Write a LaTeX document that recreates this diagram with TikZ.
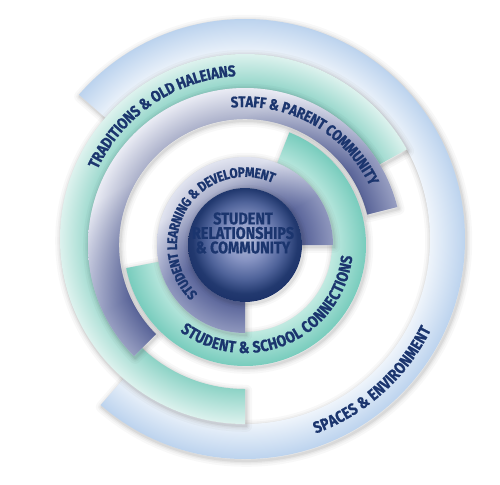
\documentclass[tikz,border=0pt]{standalone}
\usepackage{fontspec}
\setmainfont{Fira Sans}
\newfontfamily\cf[FakeStretch=0.86,FakeBold=0.8]{Fira Sans}
\usetikzlibrary{decorations.text}
\definecolor{navy}{HTML}{1B356E}
\definecolor{sixin}{HTML}{EEF4FB}
\definecolor{sixout}{HTML}{BCD3EE}
\definecolor{fivein}{HTML}{8DD3C6}
\definecolor{fiveout}{HTML}{DDF2EE}
\definecolor{fourin}{HTML}{66709F}
\definecolor{fourout}{HTML}{D9DCEC}
\definecolor{threein}{HTML}{C0EAE1}
\definecolor{threeout}{HTML}{78CCBD}
\definecolor{twoin}{HTML}{5F699D}
\definecolor{twoout}{HTML}{C9CEE4}
\definecolor{slatedark}{HTML}{4A5690}
\definecolor{sphA}{HTML}{B8C0DD}
\definecolor{sphB}{HTML}{8794C3}
\definecolor{sphC}{HTML}{4F639A}
\definecolor{sphD}{HTML}{22396F}
\definecolor{sphE}{HTML}{1D336A}
\pgfdeclareradialshading{shsix}{\pgfpointorigin}{color(0bp)=(sixin); color(21.02bp)=(sixin); color(25bp)=(sixout); color(50bp)=(sixout)}
\pgfdeclareradialshading{shfive}{\pgfpointorigin}{color(0bp)=(fivein); color(20.27bp)=(fivein); color(25bp)=(fiveout); color(50bp)=(fiveout)}
\pgfdeclareradialshading{shfour}{\pgfpointorigin}{color(0bp)=(fourin); color(20.06bp)=(fourin); color(25bp)=(fourout); color(50bp)=(fourout)}
\pgfdeclareradialshading{shthree}{\pgfpointorigin}{color(0bp)=(threein); color(17.98bp)=(threein); color(25bp)=(threeout); color(50bp)=(threeout)}
\pgfdeclareradialshading{shtwo}{\pgfpointorigin}{color(0bp)=(twoin); color(16.19bp)=(twoin); color(25bp)=(twoout); color(50bp)=(twoout)}
\pgfdeclareradialshading{shsph}{\pgfpoint{0bp}{3bp}}{color(0bp)=(sphA); color(9bp)=(sphB); color(17bp)=(sphC); color(23bp)=(sphD); color(26bp)=(sphE); color(50bp)=(sphE)}
\pgfdeclareverticalshading{lightdir}{100bp}{color(0bp)=(slatedark); color(25bp)=(slatedark); color(52bp)=(slatedark); color(68bp)=(white); color(75bp)=(white); color(100bp)=(white)}
\newcommand\ringpiece[7]{%
 \begin{scope}[shift={#1}]
  \foreach \ww/\oo in {12/0.03,8/0.04,5/0.05,2.5/0.07}{%
   \draw[shift={(1.2,-1.8)}, line width=\ww pt, line join=round, draw=black!80, opacity=\oo]
     (#2:#4) arc[start angle=#2, end angle=#3, radius=#4] -- (#3:#5) arc[start angle=#3, end angle=#2, radius=#5] -- cycle;}
  \begin{scope}
   \clip (#2:#4) arc[start angle=#2, end angle=#3, radius=#4] -- (#3:#5) arc[start angle=#3, end angle=#2, radius=#5] -- cycle;
   \shade[shading=#6] (0,0) circle[radius=#5];
   \shade[shading=lightdir, shading angle=30, opacity=#7] (0,0) circle[radius=#5];
  \end{scope}
 \end{scope}}
\tikzset{ringtxt/.style={decorate, decoration={text along path, text color=navy, text align=center, raise=-4pt}}}
\begin{document}
\begin{tikzpicture}[x=1pt,y=1pt]
\useasboundingbox (0,0) rectangle (500,-484);
\fill[white] (0,0) rectangle (500,-484);
\coordinate (C1) at (245,-245);
\coordinate (C2) at (245,-239);
% outer ring: spaces & environment
\ringpiece{(C2)}{-131}{139}{185}{220}{shsix}{0}
% traditions
\ringpiece{(C2)}{29}{270}{150}{185}{shfive}{0}
% staff & parent
\ringpiece{(C1)}{14}{225}{126}{157}{shfour}{0.45}
% student & school connections
\ringpiece{(C1)}{-169}{68.5}{87}{121}{shthree}{0}
% student learning
\ringpiece{(C1)}{0}{270}{57}{88}{shtwo}{0.45}
% sphere
\foreach \ww/\oo in {10/0.03,6/0.05,3/0.07}{%
  \draw[line width=\ww pt, draw=black!80, opacity=\oo] ([shift={(1.2,-1.8)}]C1) circle[radius=57];}
\shade[shading=shsph] (C1) circle[radius=57];
\node[text=navy, font=\cf\bfseries\fontsize{16.8}{14.5}\selectfont, align=center] (core) at (243,-233) {STUDENT\\RELATIONSHIPS\\\& COMMUNITY};
% texts
\begin{scope}[shift={(C2)}]
\path[ringtxt, decoration={text={|\cf\bfseries\fontsize{15.8}{17}\selectfont|TRADITIONS {\&} OLD HALEIANS}}] (169:167) arc[start angle=169, end angle=79, radius=167];
\path[ringtxt, decoration={text={|\cf\bfseries\fontsize{16.2}{17}\selectfont|SPACES {\&} ENVIRONMENT}}] (-83:203) arc[start angle=-83, end angle=-13, radius=203];
\end{scope}
\begin{scope}[shift={(C1)}]
\path[ringtxt, decoration={text={|\cf\bfseries\fontsize{15.3}{17}\selectfont|STAFF {\&} PARENT COMMUNITY}}] (116:142) arc[start angle=116, end angle=5, radius=142];
\path[ringtxt, decoration={text={|\cf\bfseries\fontsize{16.2}{17}\selectfont|STUDENT {\&} SCHOOL CONNECTIONS}}] (208:104) arc[start angle=208, end angle=379, radius=104];
\path[ringtxt, decoration={text={|\cf\bfseries\fontsize{14}{15}\selectfont|STUDENT LEARNING {\&} DEVELOPMENT}}] (250:72) arc[start angle=250, end angle=42, radius=72];
\end{scope}
\end{tikzpicture}
\end{document}
